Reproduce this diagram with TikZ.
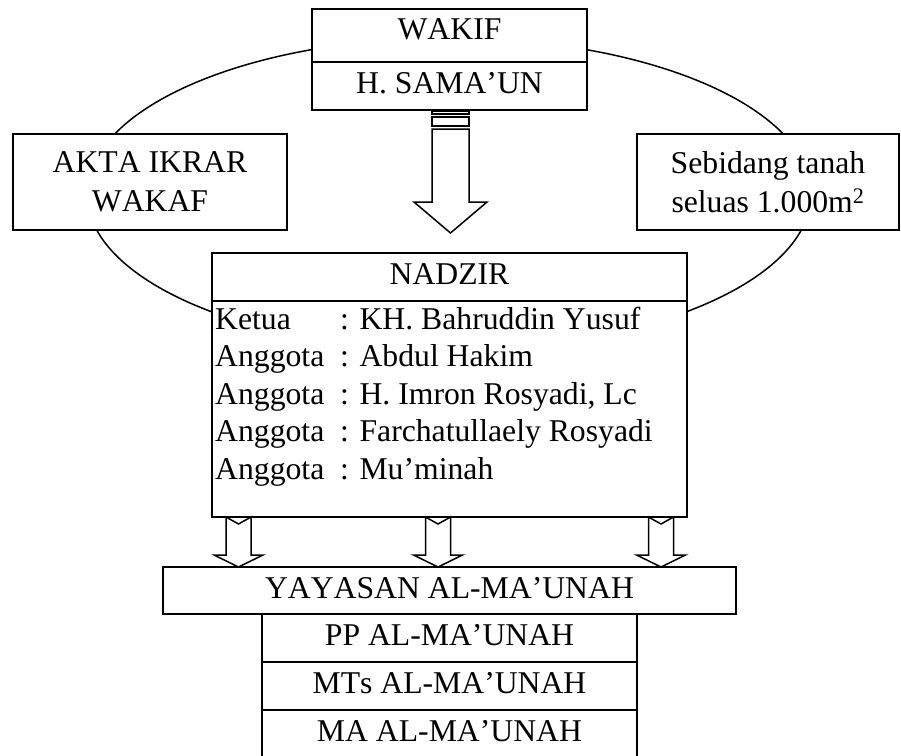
\documentclass[tikz,border=0pt]{standalone}
\usepackage{fontspec}
\setmainfont[Kerning=Off]{Liberation Serif}
\tikzset{
  box/.style={draw, fill=white, line width=1.5pt, inner sep=0pt, text height=31.5pt, text depth=16.5pt, minimum height=48pt},
  sidebox/.style={draw, fill=white, line width=1.5pt, inner sep=0pt, align=center, minimum height=96pt, font=\fontsize{31.7}{39}\selectfont},
  blockarrow/.style={draw, fill=white, line width=1.5pt, line join=miter}
}

\begin{document}
\begin{tikzpicture}[x=1pt, y=-1pt, font=\fontsize{31.7}{37.5}\selectfont]
    \useasboundingbox (0,0) rectangle (901,755);
    \draw[line width=1.5pt] (449,194) ellipse [x radius=362pt, y radius=156pt];
    \node[box, minimum width=275pt, text height=30pt, text depth=23pt, minimum height=53pt] (wakif) at (449.5,35.5) {WAKIF};
    \node[box, minimum width=275pt] (sama) at (449.5,86) {H. SAMA'UN};
    \draw[blockarrow] (432,111) rectangle (469,114);
    \draw[blockarrow] (432,117) rectangle (469,126);
    \draw[blockarrow] (432,129) -- (432,202) -- (414,202) -- (450.5,233) -- (487,202) -- (469,202) -- (469,129) -- cycle;
    \node[sidebox, minimum width=274pt] (akta) at (150,182) {AKTA IKRAR\\WAKAF};
    \node[sidebox, minimum width=262pt] (tanah) at (768,182) {Sebidang tanah\\seluas 1.000m\textsuperscript{2}};
    \node[box, minimum width=475pt] (nadzir) at (449.5,277) {NADZIR};
    \node[draw, fill=white, line width=1.5pt, inner sep=0pt, minimum width=475pt, minimum height=216pt] (members) at (449.5,409) {};
    \node[anchor=base west, inner sep=0pt] (names) at (215,329) {\begin{tabular}[t]{@{}p{125pt}@{}l@{}}
      Ketua & : KH. Bahruddin Yusuf\\
      Anggota & : Abdul Hakim\\
      Anggota & : H. Imron Rosyadi, Lc\\
      Anggota & : Farchatullaely Rosyadi\\
      Anggota & : Mu'minah
    \end{tabular}};
    \draw[blockarrow] (226,517) -- (238.5,524) -- (251,517) -- (251,555) -- (263,555) -- (238.5,567) -- (214,555) -- (226,555) -- cycle;
    \draw[blockarrow] (425.5,517) -- (438,524) -- (450.5,517) -- (450.5,555) -- (462.5,555) -- (438,567) -- (413.5,555) -- (425.5,555) -- cycle;
    \draw[blockarrow] (648.5,517) -- (661,524) -- (673.5,517) -- (673.5,555) -- (685.5,555) -- (661,567) -- (636.5,555) -- (648.5,555) -- cycle;
    \node[box, minimum width=573pt, text depth=15.5pt, minimum height=47pt] (yayasan) at (449.5,590.5) {YAYASAN AL-MA'UNAH};
    \node[box, minimum width=375pt] (pp) at (449.5,638) {PP AL-MA'UNAH};
    \node[box, minimum width=375pt] (mts) at (449.5,686) {MTs AL-MA'UNAH};
    \node[box, minimum width=375pt] (ma) at (449.5,734) {MA AL-MA'UNAH};
  \end{tikzpicture}
\end{document}
